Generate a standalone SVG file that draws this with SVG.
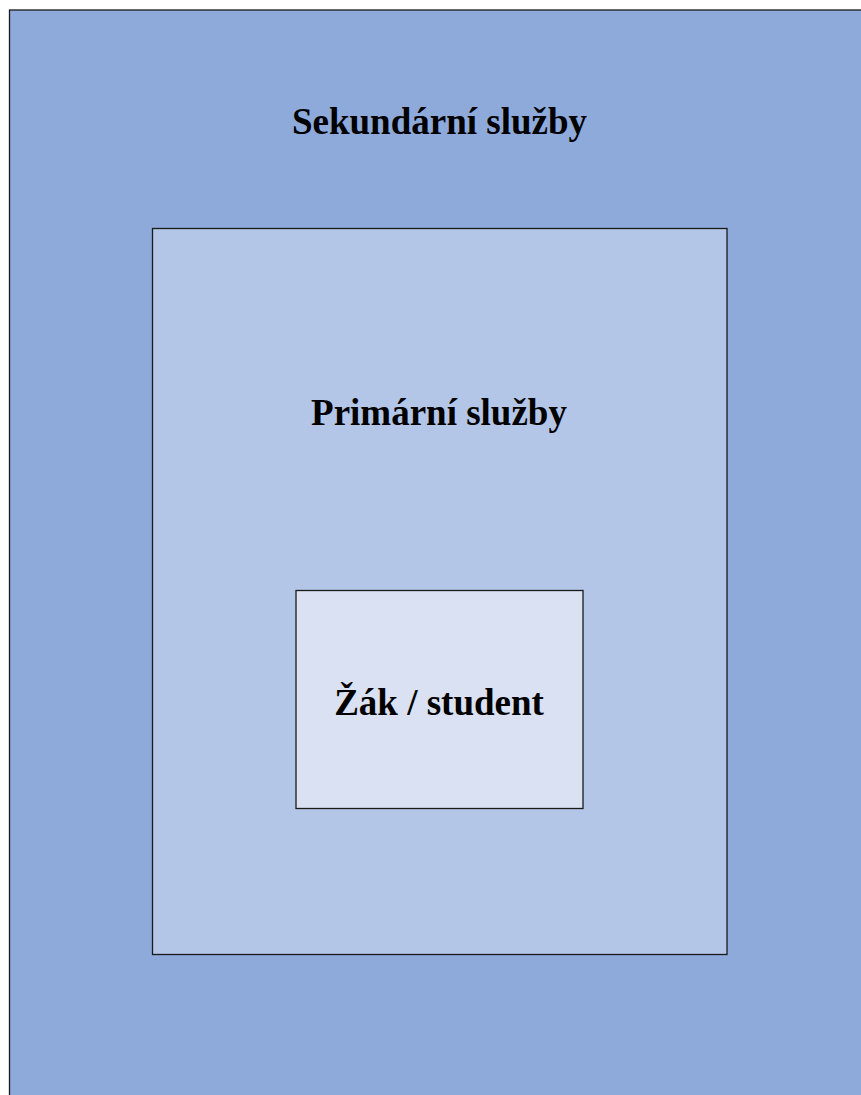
<svg xmlns="http://www.w3.org/2000/svg" width="861" height="1095" viewBox="0 0 861 1095">
<style>
.box{stroke:#1a1a1a;stroke-width:1.3}
.lbl{font-family:"Liberation Serif","Times New Roman",serif;font-weight:bold;font-size:37px;fill:#000;text-anchor:middle}
</style>
<rect width="861" height="1095" fill="#ffffff"/>
<g id="secondary">
<rect class="box" x="9.5" y="10" width="870" height="1100" fill="#8EAADB"/>
<text class="lbl" x="439.5" y="134">Sekundární služby</text>
</g>
<g id="primary">
<rect class="box" x="152.5" y="228.5" width="574.5" height="726" fill="#B4C6E7"/>
<text class="lbl" x="439" y="425">Primární služby</text>
</g>
<g id="student">
<rect class="box" x="296" y="590.5" width="287" height="218" fill="#D9E1F2"/>
<text class="lbl" x="439" y="715">Žák / student</text>
</g>
<g id="connectors"/>
</svg>
